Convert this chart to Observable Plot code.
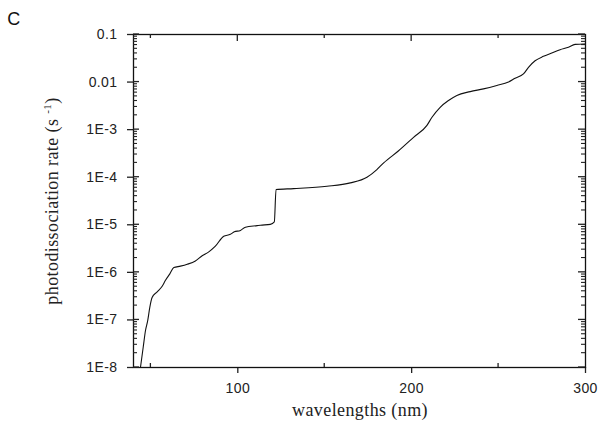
<!DOCTYPE html>
<html>
<head>
<meta charset="utf-8">
<script src="https://cdn.jsdelivr.net/npm/d3@7"></script>
<script src="https://cdn.jsdelivr.net/npm/@observablehq/plot@0.6"></script>
<style>
  html, body { margin: 0; padding: 0; background: white; }
  #chart svg { display: block; }
</style>
</head>
<body>
<div id="chart"></div>
<script>
// Data (wavelength in nm, photodissociation rate in s^-1)
const wavelength = [44, 45.6, 46.9, 48.2, 49.4, 50.7, 53.6, 56.5, 58.4, 60.9, 63.2, 67, 70.9, 75.6, 79.5, 83.3, 87.1, 91.9, 95.7, 98, 101.5, 104.4, 111.1, 113, 118.7, 121, 122, 132.1, 151.3, 164.7, 174.3, 180, 183.9, 192.5, 201.1, 208.8, 211.7, 216.4, 221.2, 226, 233.7, 241.3, 249, 255.7, 259.5, 264.3, 267.2, 271, 275.8, 280.6, 285.4, 290.2, 294, 298.8, 300];
const rate = [1.0e-8, 2.7e-8, 6.0e-8, 9.8e-8, 1.86e-7, 2.95e-7, 3.9e-7, 5.1e-7, 6.8e-7, 9.3e-7, 1.26e-6, 1.35e-6, 1.48e-6, 1.74e-6, 2.24e-6, 2.7e-6, 3.55e-6, 5.75e-6, 6.3e-6, 7.1e-6, 7.6e-6, 8.9e-6, 9.6e-6, 9.8e-6, 1.02e-5, 1.15e-5, 5.5e-5, 5.75e-5, 6.45e-5, 7.6e-5, 1.0e-4, 1.45e-4, 2.0e-4, 3.6e-4, 6.9e-4, 1.23e-3, 1.82e-3, 2.95e-3, 4.1e-3, 5.25e-3, 6.3e-3, 7.2e-3, 8.5e-3, 1.0e-2, 1.2e-2, 1.48e-2, 2.04e-2, 2.8e-2, 3.47e-2, 4.07e-2, 4.8e-2, 5.4e-2, 6.2e-2, 6.3e-2, 6.4e-2];

const xMajor = [100, 200, 300];
const xMajorLabels = ["100", "200", "300"];
const xMinor = [50, 150, 250];
const yMajor = [1e-8, 1e-7, 1e-6, 1e-5, 1e-4, 1e-3, 1e-2, 1e-1];
const yMajorLabels = ["1E-8", "1E-7", "1E-6", "1E-5", "1E-4", "1E-3", "0.01", "0.1"];
const yMinorMultipliers = [2, 3, 4, 5, 6, 7, 8, 9];

const panelLabel = "C";
const xLabel = "wavelengths (nm)";
const yLabelMain = "photodissociation rate (s ";
const yLabelSup = "-1";
const yLabelEnd = ")";

const data = wavelength.map((w, i) => ({w, r: rate[i]}));
const yMinor = [];
for (const d of yMajor.slice(0, -1)) for (const m of yMinorMultipliers) yMinor.push(d * m);

const W = 603, H = 424, mL = 133, mR = 18, mT = 34, mB = 57;
const xDomain = [40, 300], yDomain = [1e-8, 0.1];
const ink = "#222";

const plot = Plot.plot({
  width: W, height: H,
  marginLeft: mL, marginRight: mR, marginTop: mT, marginBottom: mB,
  style: {fontFamily: "'Liberation Sans', Arial, sans-serif", fontSize: "14px", color: ink, background: "white", overflow: "visible", letterSpacing: "0.4px"},
  x: {domain: xDomain},
  y: {type: "log", domain: yDomain},
  marks: [
    Plot.axisX({anchor: "bottom", ticks: xMajor, tickSize: 6, tickPadding: 10, tickFormat: d => xMajorLabels[xMajor.indexOf(d)], label: null, stroke: ink, strokeWidth: 1.3}),
    Plot.axisY({anchor: "left", ticks: yMajor, tickSize: 6, tickPadding: 10, tickFormat: d => yMajorLabels[yMajor.indexOf(d)], label: null, stroke: ink, strokeWidth: 1.3}),
    Plot.line(data, {x: "w", y: "r", stroke: "#111", strokeWidth: 1.1, curve: "monotone-x"}),
    Plot.frame({stroke: "#111", strokeWidth: 1.3})
  ]
});

// inward ticks on all four sides, positioned through Plot's own scales
const sx = plot.scale("x"), sy = plot.scale("y");
const svg = d3.select(plot);
const g = svg.append("g").attr("stroke", ink).attr("fill", "none");
const x0 = mL, x1 = W - mR, y0 = H - mB, y1 = mT;
function hTick(v, lenL, lenR, w) {
  const y = sy.apply(v);
  g.append("line").attr("x1", x0).attr("x2", x0 + lenL).attr("y1", y).attr("y2", y).attr("stroke-width", w);
  g.append("line").attr("x1", x1 - lenR).attr("x2", x1).attr("y1", y).attr("y2", y).attr("stroke-width", w);
}
yMajor.forEach(v => hTick(v, 6, 7, 1.3));
yMinor.forEach(v => hTick(v, 4, 4, 1.1));
xMinor.forEach(v => {
  const x = sx.apply(v);
  g.append("line").attr("x1", x).attr("x2", x).attr("y1", y0 - 4).attr("y2", y0).attr("stroke-width", 1.3);
});
xMinor.concat(xMajor.slice(0, 2)).forEach(v => {
  const x = sx.apply(v);
  g.append("line").attr("x1", x).attr("x2", x).attr("y1", y1).attr("y2", y1 + (xMajor.includes(v) ? 7 : 4)).attr("stroke-width", 1.3);
});

svg.append("text")
  .attr("x", 14).attr("y", 25)
  .attr("font-family", "'Liberation Sans', Arial, sans-serif")
  .attr("font-size", 18).attr("fill", "#111")
  .text(panelLabel);

svg.append("text")
  .attr("x", 360).attr("y", 416)
  .attr("text-anchor", "middle")
  .attr("font-family", "'Liberation Serif', 'Times New Roman', serif")
  .attr("font-size", 18).attr("fill", ink)
  .text(xLabel);

const yl = svg.append("text")
  .attr("transform", "translate(58,201) rotate(-90)")
  .attr("text-anchor", "middle")
  .attr("font-family", "'Liberation Serif', 'Times New Roman', serif")
  .attr("font-size", 18).attr("fill", ink);
yl.append("tspan").text(yLabelMain);
yl.append("tspan").attr("font-size", 11).attr("dy", -7).text(yLabelSup);
yl.append("tspan").attr("dy", 7).text(yLabelEnd);

document.getElementById("chart").appendChild(plot);
</script>
</body>
</html>
